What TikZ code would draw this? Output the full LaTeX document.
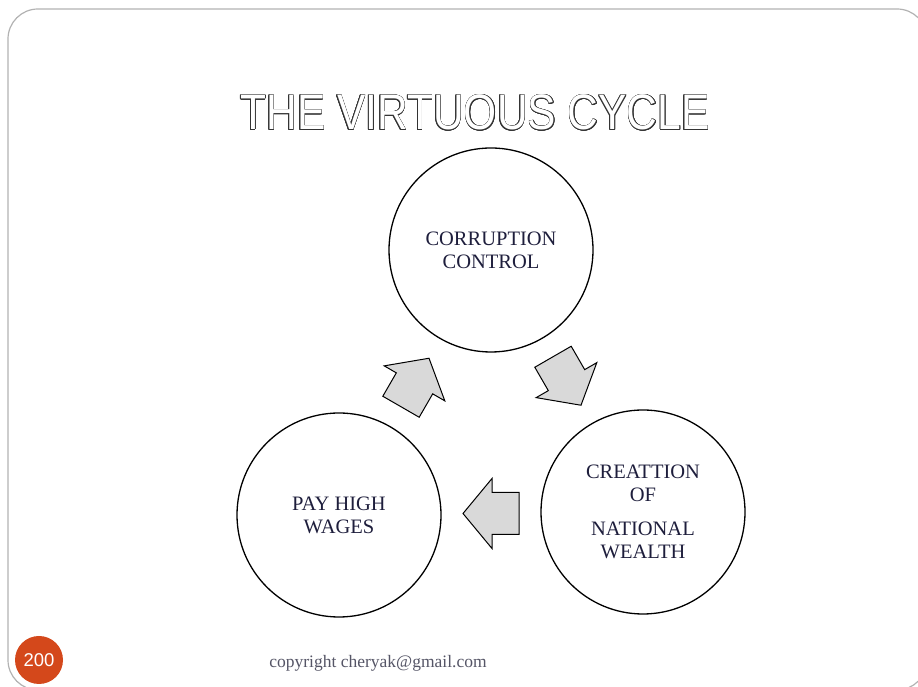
\documentclass[tikz,border=0pt]{standalone}
\usepackage{fontspec}
\setmainfont{Liberation Serif}
\newfontfamily\titlefont{Liberation Sans}
\usepackage{contour}
\contourlength{0.7pt}
\usepackage{graphicx}
\definecolor{badge}{HTML}{D4481B}
\definecolor{inktext}{HTML}{1E1E3C}
\definecolor{copygray}{HTML}{555566}

\begin{document}
\begin{tikzpicture}
[x=1pt,y=1pt]
\tikzset{circ/.style={circle,draw,line width=1.3pt,minimum size=204pt,inner sep=0pt,align=center,text=inktext,font=\fontsize{20.5}{23}\selectfont}}
\tikzset{frame/.style={draw=black!30,line width=1.2pt,rounded corners=30pt}}
\tikzset{fat/.style={fill=black!15,draw=black,line width=1pt,line join=miter}}
\tikzset{blockarrow/.pic={\draw[fat] (-28,-21) -- (-1,-21) -- (-1,-35) -- (28,0) -- (-1,35) -- (-1,21) -- (-28,21) -- cycle;}}
\useasboundingbox (0,0) rectangle (918,687);
\clip (0,0) rectangle (918,687);
\draw[frame] (8,-3) rectangle (927,678);

\node [anchor=base] (title) at (475,557) {\titlefont\fontsize{50}{50}\selectfont\scalebox{0.85}[1]{\color{white}\contour{black!80}{THE VIRTUOUS CYCLE}}};

\node [circ] (cc) at (491,437) {CORRUPTION\\CONTROL};
\node [circ] (nw) at (643,175) {CREATTION\\OF\\[11pt]NATIONAL\\WEALTH};
\node [circ] (pw) at (339,172) {PAY HIGH\\WAGES};

\foreach \from/\to/\ang in {pw/cc/60,cc/nw/-60,nw/pw/180}{
	\path (\from) -- (\to) coordinate[midway] (m\from);
	\pic[rotate=\ang] at (m\from) {blockarrow};
}

\node [circle,fill=badge,minimum size=48pt,inner sep=0pt,text=white,font=\titlefont\fontsize{18.5}{18.5}\selectfont] (page) at (39,27) {200};
\node [anchor=base,text=copygray,font=\fontsize{17.5}{17.5}\selectfont] (copy) at (378,19) {copyright cheryak@gmail.com};

\end{tikzpicture}
\end{document}
